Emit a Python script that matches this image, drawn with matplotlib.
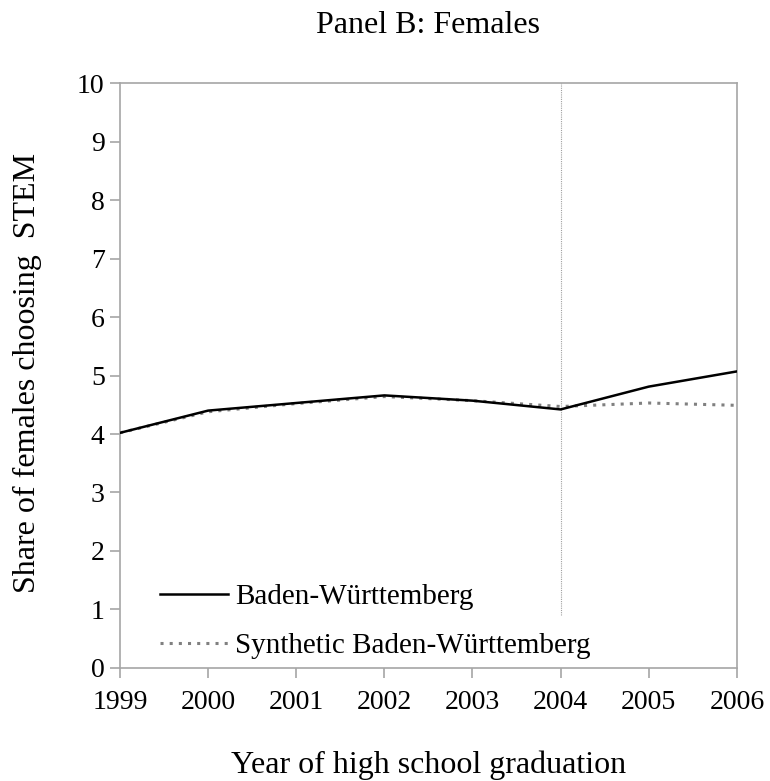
import matplotlib
matplotlib.use("Agg")
import matplotlib.pyplot as plt

years = [1999, 2000, 2001, 2002, 2003, 2004, 2005, 2006]
bw = [4.02, 4.40, 4.53, 4.66, 4.57, 4.42, 4.81, 5.07]
synthetic = [4.02, 4.38, 4.52, 4.64, 4.57, 4.47, 4.53, 4.49]
yticks = list(range(0, 11))
treat_year = 2004

plt.rcParams['font.family'] = ['Liberation Serif', 'DejaVu Serif']

fig = plt.figure(figsize=(7.7, 7.81), dpi=100)
ax = fig.add_axes([0.1558, 0.1447, 0.8012, 0.749])

ax.plot(years, bw, color='black', lw=1.8, label='Baden-Württemberg', zorder=3)
ax.plot(years, synthetic, color='#808080', lw=2.2, ls=(0, (1, 2)),
        label='Synthetic Baden-Württemberg', zorder=2)
ax.vlines(treat_year, 0.9, 10, color='#a0a0a0', lw=0.8, ls=(0, (1, 1)), zorder=1)

ax.set_xlim(years[0], years[-1])
ax.set_ylim(0, 10)
ax.set_xticks(years)
ax.set_yticks(yticks)
for s in ax.spines.values():
    s.set_color('#a6a6a6')
    s.set_linewidth(1.2)
ax.tick_params(axis='both', direction='out', length=7, width=1.2, color='#a6a6a6',
               labelsize=20)
ax.tick_params(axis='y', pad=4)
ax.tick_params(axis='x', pad=9)

ax.set_title('Panel B: Females', fontsize=23, pad=36)
ax.set_xlabel('Year of high school graduation', fontsize=23)
ax.xaxis.set_label_coords(0.5, -0.1795)
ax.xaxis.label.set_verticalalignment('baseline')
ax.set_ylabel('Share of females choosing  STEM', fontsize=23)
ax.yaxis.set_label_coords(-0.1378, 0.505)
ax.yaxis.label.set_verticalalignment('baseline')

leg = ax.legend(loc='center left', bbox_to_anchor=(0.0648, 0.0795), frameon=False,
                fontsize=21, handlelength=2.34, handletextpad=0.24, labelspacing=0.79,
                borderaxespad=0, borderpad=0)

fig.savefig('out.png', dpi=100)
